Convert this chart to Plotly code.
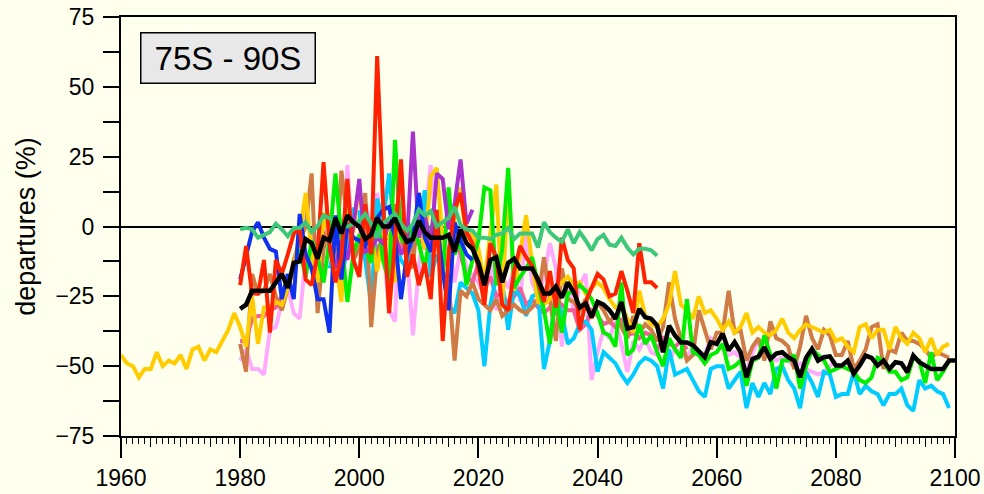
import plotly.graph_objects as go

# Precipitation departures (%) for the 75S - 90S band, one line per model run
# plus the multi-model mean (black). Each series: first year + yearly values.

yellow_start = 1960
yellow = [
    -46, -49, -50, -54, -51, -51, -45, -50, -48, -49,
    -46, -51, -44, -43, -48, -44, -45, -41, -37, -31,
    -36, -43, -25, -42, -29, -29, -27, -28, -22, -14,
    -3, 12, -10, -20, 5, -5, -12, -27, 8, -2,
    15, -6, -2, -16, -3, -3, -20, 5, -10, -4,
    2, -8, 18, 21, -5, -14, 3, 14, -6, -2,
    -8, -20, -3, 15, -29, 17, -23, -10, 4, -13,
    -27, -28, -26, -22, -20, -18, -21, -20, -24, -22,
    -20, -22, -26, -29, -28, -33, -38, -23, -32, -35,
    -36, -33, -28, -16, -28, -30, -33, -25, -31, -30,
    -33, -37, -34, -38, -36, -31, -38, -36, -38, -39,
    -37, -33, -38, -40, -37, -35, -36, -37, -38, -37,
    -41, -40, -43, -45, -36, -35, -40, -37, -37, -44,
    -36, -40, -42, -38, -40, -45, -40, -46, -43, -42,
]

brown_start = 1980
brown = [
    -42, -52, -17, -24, -23, -17, -25, -30, -22, -12,
    -5, 0, 19, -31, -8, 4, -15, 20, 2, -12,
    -8, 12, -36, -10, -3, -20, 8, -5, 2, -15,
    12, -8, -5, 3, -18, -20, -48, -23, -25, -20,
    -26, -28, -30, -26, -32, -30, -28, -30, -31, -29,
    -26, -11, -25, -41, -15, -26, -27, -30, -26, -33,
    -27, -30, -34, -32, -36, -40, -32, -38, -35, -37,
    -41, -36, -20, -33, -40, -48, -46, -30, -37, -44,
    -38, -38, -23, -38, -37, -48, -43, -40, -48, -34,
    -40, -41, -43, -51, -43, -32, -40, -44, -37, -39,
    -46, -46, -41, -51, -48, -44, -36, -35, -51, -44,
    -45, -38, -41, -41, -42, -44, -47, -45, -46, -47,
]

light_pink_start = 1980
light_pink = [
    -48, -44, -51, -51, -53, -37, -36, -27, -22, -31,
    -33, -11, -13, -5, 3, -13, -8, -21, 22, -10,
    -4, 9, -2, 12, -6, -30, -34, 20, -12, -39,
    -15, 5, 22, -5, -12, -3, -20, -8, -14, -18,
    -20, -25, -12, -30, -18, -22, -15, -27, -1, -20,
    -25, -18, -6, -15, -43, -21, -30, -21, -17, -55,
    -45, -37, -40, -34, -42, -52, -41, -44, -40, -45,
    -46, -42, -48, -44, -45, -47, -43, -45, -46, -40,
    -42, -44, -46, -45, -47, -52, -45, -41, -44, -46,
    -48, -47, -48, -50, -49, -51, -52, -53, -52, -50,
    -48,
]

hot_pink_start = 1980
hot_pink = [
    -41, -41, -33, -32, -32, -30, -29, -25, -22, -15,
    -10, -12, -15, -8, -2, -6, -4, -10, -3, -8,
    -5, -12, -2, -8, -6, -3, -15, -5, -10, -2,
    -6, -4, -12, -3, -15, -8, -2, -10, -18, -20,
    -13, -22, -18, -25, -24, -28, -25, -22, -28, -26,
    -29, -31, -29, -31, -28, -30, -30, -37, -35, -30,
    -32, -35, -34, -36, -33, -39, -38, -40, -38, -39,
    -44, -40, -42, -43, -41, -44,
]

cyan_start = 1995
cyan = [
    -15, -8, -22, -5, 6,
    5, -12, -28, 10, 2, 19, -5, -12, -15, -8,
    -2, 13, -18, -10, -15, -28, -31, -20, -22, -24,
    -30, -50, -28, -18, -20, -37, -22, -25, -32, -25,
    -24, -51, -41, -24, -31, -42, -40, -35, -34, -37,
    -52, -45, -47, -49, -53, -56, -53, -49, -47, -48,
    -50, -58, -44, -53, -52, -51, -55, -59, -61, -51,
    -50, -50, -58, -55, -52, -65, -56, -61, -56, -60,
    -51, -50, -55, -58, -65, -52, -56, -61, -52, -53,
    -61, -60, -60, -52, -60, -57, -59, -60, -64, -60,
    -60, -58, -64, -66, -55, -58, -57, -59, -60, -65,
]

green_start = 1990
green = [
    -8, -18, -5, -11, -20, -5, 19, -4, -27, -10,
    -3, -8, -13, 4, -12, -20, 31, -4, -8, 0,
    -6, -15, -1, 5, -18, 14, -10, -5, -21, -12,
    -5, 14, 13, -21, -8, 21, -22, -18, -15, -11,
    -20, -30, -42, -24, -38, -24, -23, -21, -23, -26,
    -31, -38, -39, -43, -20, -46, -44, -35, -42, -39,
    -45, -50, -40, -44, -47, -26, -45, -46, -49, -46,
    -45, -42, -51, -50, -48, -57, -48, -47, -39, -46,
    -58, -48, -48, -46, -58, -50, -44, -46, -48, -52,
    -51, -50, -51, -52, -55, -56, -54, -47, -48, -52,
    -52, -55, -54, -47, -48, -56, -45, -55, -52, -48,
]

purple_start = 1995
purple = [
    -8, -15, -5, -12, 0,
    17, -9, -8, -4, -6, 2, -3, -10, -6, 34,
    -4, 4, -7, 19, 17, -1, 8, 24, 1, 6,
]

blue_start = 1980
blue = [
    -19, -11, -2, 1.5, -4, -8, -9, -26, -17, -26,
    4.5, -10, -15, -26, -26, -38, 4, -19, 1, -4,
    -5, -7, -1, 3, 6, 7, -4, -26, -10, -4,
    12, -4, -9, 1.5, -16, -30, 1.5, -5, -10, -12,
]

red_start = 1980
red = [
    -21, -7, -24, -24, -12, -38, -12, -17, -10, -2.5,
    -1, -19, -21, -10, 23, -6, -20, -11, 17, -12,
    -18, 8, -10, 61, 8, -31, -5, 24, -18, -10,
    -21, -13, -26, 6, -41, -10, 6, 12, -2, -6,
    -15, -28, -6, -11, -28, -30, -16, -7, -11, -14,
    -20, -27, -16, -29, -4, -12, -15, -37, -27, -22,
    -17, -19, -25, -24, -16, -23, -31, -6, -20, -20,
    -22,
]

sea_green_start = 1980
sea_green = [
    -1, -0.5, -1, -4, -3, -2, 1, -1, -3.5, -0.5,
    -0.5, 1.5, -2, 0, 4, 3, 1, 0, 0, 1,
    2, 4.5, 1, -4, 1, 3, 4.5, 1, -1.5, 1,
    6, 4, 5.5, 0, 1.5, 3, 7, 0.5, -1, -1.5,
    -4, -4, -4.5, -3, -2.5, -0.5, -4.5, -2.5, -2.5, -2.5,
    -7.5, 1.5, -2, -4, -5.5, -1, -6, -2, -5, -8.5,
    -4.5, -3, -6.5, -7, -4, -7.5, -10, -8, -8, -8.5,
    -10.5,
]

mean_start = 1980
mean = [
    -29.5, -28, -23, -23, -23, -23, -20, -17, -22, -13,
    -12.5, -4.5, -6, -11.5, -4, -5, 3, -2.5, 4, 1.5,
    0, -4.5, -3, 3, 0, 0, 3, -2, -5.5, -4.5,
    2, -2, -4, -4, -4, -3, -9, -1, -6, -8,
    -13, -21, -12, -11, -20, -13, -11.5, -15, -15, -15,
    -19, -24, -24, -21.5, -25.5, -20, -23.5, -29, -27.5, -32.5,
    -27, -28, -30, -33, -27, -36.5, -36, -29.5, -32.5, -33,
    -35.5, -45, -35.5, -39, -41.5, -41.5, -42.5, -44.5, -46.8, -41.4,
    -42, -38.4, -44.4, -41.4, -45, -54, -47.4, -46.6, -43.2, -47.4,
    -45.5, -45, -46.8, -48, -54, -47, -43.8, -48, -46.8, -46.5,
    -49.8, -49.8, -48, -52.7, -49.8, -46.2, -47, -49.8, -48, -51,
    -48.6, -49, -52.2, -46.2, -48.6, -49.8, -51, -51, -51, -48,
    -48,
]

# (start year, values, colour), drawn bottom to top
runs = [
    (light_pink_start, light_pink, "#FFAAFF"),
    (hot_pink_start, hot_pink, "#F65B9C"),
    (cyan_start, cyan, "#00CCFF"),
    (brown_start, brown, "#D07A45"),
    (yellow_start, yellow, "#FFCC00"),
    (green_start, green, "#00EE00"),
    (purple_start, purple, "#A833CC"),
    (blue_start, blue, "#1030F0"),
    (red_start, red, "#FF2200"),
    (sea_green_start, sea_green, "#3CC878"),
]

FONT = "Liberation Sans, Arial, sans-serif"
BG = "#FFFFEE"

fig = go.Figure()
for start, vals, color in runs:
    fig.add_trace(go.Scatter(
        x=list(range(start, start + len(vals))), y=vals,
        mode="lines", line=dict(color=color, width=4),
        hoverinfo="skip", showlegend=False,
    ))

# multi-model mean, on the overlay axis that also carries the 5-year ticks
fig.add_trace(go.Scatter(
    x=list(range(mean_start, mean_start + len(mean))), y=mean,
    mode="lines", line=dict(color="black", width=4.5),
    xaxis="x2", hoverinfo="skip", showlegend=False,
))

fig.update_layout(
    width=984, height=494,
    margin=dict(l=121, r=29, t=17, b=58),
    paper_bgcolor=BG, plot_bgcolor=BG,
    font=dict(family=FONT, color="black"),
    xaxis=dict(
        range=[1960, 2100], tick0=1960, dtick=20, automargin=False,
        ticks="outside", ticklen=20, tickwidth=1.5, tickcolor="black",
        minor=dict(dtick=1, tick0=1960, ticks="outside", ticklen=6,
                   tickwidth=1, tickcolor="black"),
        showline=True, linecolor="black", linewidth=2, mirror=True,
        showgrid=False, zeroline=False,
        tickfont=dict(size=23, family=FONT),
    ),
    xaxis2=dict(
        range=[1960, 2100], tick0=1960, dtick=5, automargin=False,
        overlaying="x", anchor="y", side="bottom",
        ticks="outside", ticklen=10, tickwidth=1.2, tickcolor="black",
        showticklabels=False, showline=False, showgrid=False, zeroline=False,
    ),
    yaxis=dict(
        range=[-75, 75], tick0=-75, dtick=25, automargin=False,
        ticks="outside", ticklen=16, tickwidth=1.5, tickcolor="black",
        minor=dict(dtick=12.5, tick0=-75, ticks="outside", ticklen=16,
                   tickwidth=1.5, tickcolor="black"),
        showline=True, linecolor="black", linewidth=2, mirror=True,
        showgrid=False,
        zeroline=True, zerolinecolor="black", zerolinewidth=1.5,
        tickfont=dict(size=23, family=FONT), ticklabelstandoff=4,
        title=dict(text="departures (%)", font=dict(size=27, family=FONT),
                   standoff=12),
    ),
    annotations=[dict(
        text="75S - 90S", xref="paper", yref="paper",
        x=19 / 834, y=(436 - 32) / 419, xanchor="left", yanchor="top",
        showarrow=False, font=dict(size=33, family=FONT, color="black"),
        bgcolor="#E8E8E8", bordercolor="black", borderwidth=1.5,
        borderpad=1, width=171, height=47,
    )],
)

fig.write_html("out.html")
